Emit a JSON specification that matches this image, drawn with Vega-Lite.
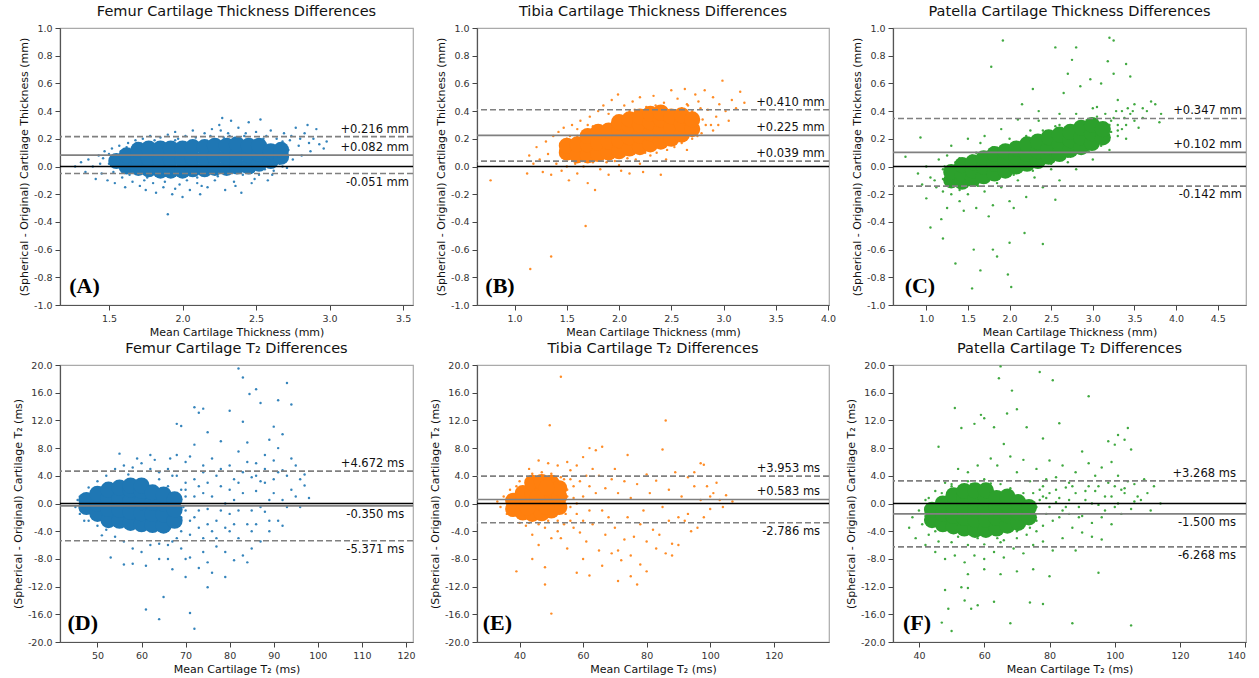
{
"$schema": "https://vega.github.io/schema/vega-lite/v6.json",
"padding": {"left": 11, "top": 2, "right": 5, "bottom": 2},
"background": "white",
"columns": 3,
"spacing": {"row": 60, "column": 64},
"bounds": "flush",
"config": {
 "font": "DejaVu Sans",
 "view": {"stroke": "#aaaaaa", "strokeWidth": 1.2},
 "axis": {"grid": false, "domain": true, "domainColor": "#555555", "domainWidth": 1.2, "tickColor": "#444444", "tickSize": 5, "tickWidth": 1, "labelOverlap": false, "labelFont": "DejaVu Sans", "labelFontSize": 9.5, "labelColor": "#333333", "labelPadding": 3, "titleFont": "DejaVu Sans", "titleFontSize": 11, "titleFontWeight": "normal", "titleColor": "#111111"},
 "title": {"font": "DejaVu Sans", "fontSize": 14.5, "fontWeight": "normal", "color": "#111111", "offset": 4, "anchor": "middle"}
},
"datasets": {
 "femurThicknessCore": [
  {"x":1.55,"y":0.04},{"x":1.62,"y":0.0},{"x":1.62,"y":0.08},{"x":1.7,"y":-0.01},{"x":1.7,"y":0.07},{"x":1.7,"y":0.12},
  {"x":1.77,"y":-0.02},{"x":1.77,"y":0.06},{"x":1.77,"y":0.13},{"x":1.85,"y":-0.03},{"x":1.85,"y":0.05},{"x":1.85,"y":0.13},
  {"x":1.92,"y":-0.03},{"x":1.92,"y":0.05},{"x":1.92,"y":0.13},{"x":2.0,"y":-0.03},{"x":2.0,"y":0.05},{"x":2.0,"y":0.13},
  {"x":2.07,"y":-0.02},{"x":2.07,"y":0.06},{"x":2.07,"y":0.14},{"x":2.15,"y":-0.02},{"x":2.15,"y":0.06},{"x":2.15,"y":0.14},
  {"x":2.22,"y":-0.01},{"x":2.22,"y":0.07},{"x":2.22,"y":0.15},{"x":2.3,"y":-0.01},{"x":2.3,"y":0.07},{"x":2.3,"y":0.15},
  {"x":2.37,"y":0.0},{"x":2.37,"y":0.08},{"x":2.37,"y":0.16},{"x":2.45,"y":0.0},{"x":2.45,"y":0.08},{"x":2.45,"y":0.15},
  {"x":2.52,"y":0.02},{"x":2.52,"y":0.09},{"x":2.52,"y":0.15},{"x":2.6,"y":0.04},{"x":2.6,"y":0.11},{"x":2.67,"y":0.07},{"x":2.67,"y":0.12}
 ],
 "femurThicknessEdge": [
  {"x":1.27,"y":0.0},{"x":1.31,"y":0.03},{"x":1.34,"y":-0.04},{"x":1.36,"y":0.05},{"x":1.39,"y":0.0},{"x":1.41,"y":-0.09},{"x":1.43,"y":0.08},{"x":1.45,"y":-0.05},{"x":1.47,"y":0.11},{"x":1.49,"y":-0.1},
  {"x":1.5,"y":0.02},{"x":1.52,"y":0.13},{"x":1.54,"y":-0.12},{"x":1.57,"y":0.15},{"x":1.59,"y":-0.08},{"x":1.61,"y":-0.15},{"x":1.63,"y":0.17},{"x":1.66,"y":-0.11},{"x":1.68,"y":0.19},{"x":1.71,"y":-0.14},
  {"x":1.73,"y":0.2},{"x":1.75,"y":-0.17},{"x":1.78,"y":0.22},{"x":1.8,"y":-0.12},{"x":1.82,"y":-0.19},{"x":1.85,"y":0.21},{"x":1.87,"y":-0.15},{"x":1.9,"y":-0.345},{"x":1.9,"y":0.23},{"x":1.93,"y":-0.2},
  {"x":1.95,"y":0.25},{"x":1.98,"y":-0.13},{"x":2.0,"y":-0.22},{"x":2.02,"y":0.22},{"x":2.05,"y":-0.17},{"x":2.07,"y":0.26},{"x":2.1,"y":-0.12},{"x":2.12,"y":-0.2},{"x":2.15,"y":0.24},{"x":2.17,"y":-0.15},
  {"x":2.2,"y":0.27},{"x":2.22,"y":-0.1},{"x":2.25,"y":0.3},{"x":2.27,"y":0.35},{"x":2.29,"y":-0.17},{"x":2.31,"y":0.24},{"x":2.33,"y":0.33},{"x":2.35,"y":-0.11},{"x":2.38,"y":0.28},{"x":2.4,"y":-0.19},
  {"x":2.42,"y":0.22},{"x":2.45,"y":0.32},{"x":2.47,"y":-0.12},{"x":2.5,"y":0.25},{"x":2.52,"y":-0.06},{"x":2.53,"y":0.34},{"x":2.55,"y":0.2},{"x":2.58,"y":-0.1},{"x":2.6,"y":0.26},{"x":2.62,"y":-0.03},
  {"x":2.64,"y":0.2},{"x":2.66,"y":0.02},{"x":2.69,"y":0.24},{"x":2.71,"y":-0.01},{"x":2.73,"y":0.19},{"x":2.75,"y":0.05},{"x":2.77,"y":0.28},{"x":2.79,"y":0.15},{"x":2.81,"y":0.08},{"x":2.83,"y":0.24},
  {"x":2.85,"y":0.3},{"x":2.87,"y":0.11},{"x":2.89,"y":0.2},{"x":2.91,"y":0.27},{"x":2.93,"y":0.16},{"x":2.96,"y":0.13},{"x":2.98,"y":0.18},{"x":2.72,"y":0.12},{"x":2.8,"y":0.2},{"x":2.86,"y":0.17},
  {"x":1.46,"y":0.06},{"x":1.44,"y":0.02},{"x":1.58,"y":0.11},{"x":1.64,"y":-0.06},{"x":1.95,"y":0.19},{"x":2.28,"y":0.21},{"x":2.56,"y":-0.02},{"x":1.76,"y":-0.08},{"x":2.1,"y":-0.08},{"x":2.41,"y":-0.06},
  {"x":1.62,"y":0.14},{"x":1.69,"y":0.17},{"x":1.74,"y":-0.1},{"x":1.81,"y":0.19},{"x":1.88,"y":-0.11},{"x":1.97,"y":0.2},{"x":2.03,"y":-0.1},{"x":2.09,"y":0.21},{"x":2.13,"y":-0.14},{"x":2.19,"y":0.22},
  {"x":2.24,"y":-0.07},{"x":2.32,"y":0.22},{"x":2.36,"y":-0.14},{"x":2.43,"y":0.24},{"x":2.49,"y":-0.09},{"x":2.57,"y":0.22},{"x":2.61,"y":-0.06},{"x":2.68,"y":0.18},{"x":2.74,"y":0.22},{"x":1.53,"y":-0.04},
  {"x":1.5,"y":0.09},{"x":1.95,"y":-0.16},{"x":2.26,"y":0.26},{"x":2.68,"y":0.0}
 ],
 "femurThicknessRefs": [
  {"y":0,"kind":"zero","label":"","side":"none","x":3.54},
  {"y":0.216,"kind":"limit","label":"+0.216 mm","side":"above","x":3.54},
  {"y":0.082,"kind":"mean","label":"+0.082 mm","side":"above","x":3.54},
  {"y":-0.051,"kind":"limit","label":"-0.051 mm","side":"below","x":3.54}
 ],
 "tibiaThicknessCore": [
  {"x":1.5,"y":0.1},{"x":1.5,"y":0.15},{"x":1.6,"y":0.08},{"x":1.6,"y":0.16},{"x":1.7,"y":0.08},{"x":1.7,"y":0.16},{"x":1.7,"y":0.22},
  {"x":1.8,"y":0.09},{"x":1.8,"y":0.17},{"x":1.8,"y":0.25},{"x":1.9,"y":0.1},{"x":1.9,"y":0.18},{"x":1.9,"y":0.26},
  {"x":2.0,"y":0.11},{"x":2.0,"y":0.19},{"x":2.0,"y":0.27},{"x":2.0,"y":0.32},{"x":2.1,"y":0.13},{"x":2.1,"y":0.21},{"x":2.1,"y":0.29},{"x":2.1,"y":0.34},
  {"x":2.2,"y":0.14},{"x":2.2,"y":0.22},{"x":2.2,"y":0.3},{"x":2.2,"y":0.36},{"x":2.3,"y":0.16},{"x":2.3,"y":0.24},{"x":2.3,"y":0.32},{"x":2.3,"y":0.38},
  {"x":2.4,"y":0.18},{"x":2.4,"y":0.26},{"x":2.4,"y":0.34},{"x":2.4,"y":0.39},{"x":2.5,"y":0.2},{"x":2.5,"y":0.28},{"x":2.5,"y":0.36},
  {"x":2.6,"y":0.23},{"x":2.6,"y":0.31},{"x":2.6,"y":0.37},{"x":2.7,"y":0.27},{"x":2.7,"y":0.34}
 ],
 "tibiaThicknessEdge": [
  {"x":0.77,"y":-0.1},{"x":1.15,"y":-0.74},{"x":1.35,"y":-0.65},{"x":1.68,"y":-0.43},
  {"x":1.12,"y":-0.05},{"x":1.14,"y":0.08},{"x":1.18,"y":0.02},{"x":1.21,"y":0.14},{"x":1.24,"y":0.05},{"x":1.27,"y":-0.04},{"x":1.3,"y":0.18},{"x":1.32,"y":0.09},{"x":1.35,"y":-0.06},{"x":1.37,"y":0.22},
  {"x":1.4,"y":0.02},{"x":1.42,"y":0.25},{"x":1.45,"y":-0.03},{"x":1.47,"y":0.28},{"x":1.5,"y":0.0},{"x":1.52,"y":-0.1},{"x":1.55,"y":0.3},{"x":1.58,"y":0.02},{"x":1.6,"y":-0.05},{"x":1.63,"y":0.33},
  {"x":1.66,"y":0.0},{"x":1.7,"y":-0.12},{"x":1.72,"y":0.36},{"x":1.75,"y":0.03},{"x":1.77,"y":-0.17},{"x":1.8,"y":0.4},{"x":1.82,"y":-0.02},{"x":1.85,"y":0.44},{"x":1.88,"y":0.03},{"x":1.9,"y":-0.06},
  {"x":1.93,"y":0.48},{"x":1.96,"y":0.04},{"x":1.99,"y":0.52},{"x":2.02,"y":-0.03},{"x":2.05,"y":0.44},{"x":2.08,"y":0.06},{"x":2.1,"y":-0.05},{"x":2.13,"y":0.47},{"x":2.16,"y":0.05},{"x":2.2,"y":0.5},
  {"x":2.23,"y":-0.04},{"x":2.26,"y":0.43},{"x":2.3,"y":0.08},{"x":2.33,"y":0.51},{"x":2.36,"y":0.1},{"x":2.4,"y":-0.06},{"x":2.43,"y":0.46},{"x":2.46,"y":0.12},{"x":2.5,"y":0.55},{"x":2.53,"y":0.14},
  {"x":2.56,"y":0.49},{"x":2.6,"y":0.17},{"x":2.63,"y":0.56},{"x":2.66,"y":0.44},{"x":2.7,"y":0.2},{"x":2.73,"y":0.52},{"x":2.76,"y":0.47},{"x":2.79,"y":0.24},{"x":2.82,"y":0.55},{"x":2.85,"y":0.41},
  {"x":2.88,"y":0.3},{"x":2.9,"y":0.5},{"x":2.93,"y":0.36},{"x":2.96,"y":0.45},{"x":2.99,"y":0.62},{"x":3.02,"y":0.4},{"x":3.05,"y":0.33},{"x":3.08,"y":0.48},{"x":3.12,"y":0.42},{"x":3.16,"y":0.54},
  {"x":3.2,"y":0.46},{"x":2.8,"y":0.34},{"x":2.7,"y":0.4},{"x":2.9,"y":0.26},{"x":2.6,"y":0.42},{"x":2.95,"y":0.3},{"x":1.9,"y":0.38},{"x":2.1,"y":0.4},{"x":1.7,"y":0.3},{"x":1.6,"y":0.27},
  {"x":2.45,"y":0.05},{"x":2.65,"y":0.12},{"x":2.2,"y":0.02},{"x":1.44,"y":0.12},{"x":1.53,"y":0.22},
  {"x":1.45,"y":0.08},{"x":1.5,"y":0.2},{"x":1.6,"y":0.22},{"x":1.65,"y":0.04},{"x":1.75,"y":0.29},{"x":1.85,"y":0.06},{"x":1.95,"y":0.34},{"x":2.05,"y":0.08},{"x":2.15,"y":0.41},{"x":2.25,"y":0.1},
  {"x":2.35,"y":0.44},{"x":2.45,"y":0.42},{"x":2.55,"y":0.18},{"x":2.65,"y":0.45},{"x":2.75,"y":0.22},{"x":2.78,"y":0.42},{"x":2.83,"y":0.3},{"x":1.55,"y":0.05},{"x":2.0,"y":0.01}
 ],
 "tibiaThicknessRefs": [
  {"y":0,"kind":"zero","label":"","side":"none","x":3.97},
  {"y":0.41,"kind":"limit","label":"+0.410 mm","side":"above","x":3.97},
  {"y":0.225,"kind":"mean","label":"+0.225 mm","side":"above","x":3.97},
  {"y":0.039,"kind":"limit","label":"+0.039 mm","side":"above","x":3.97}
 ],
 "patellaThicknessCore": [
  {"x":1.3,"y":-0.1},{"x":1.3,"y":-0.04},{"x":1.43,"y":-0.11},{"x":1.43,"y":-0.05},{"x":1.43,"y":0.01},
  {"x":1.56,"y":-0.09},{"x":1.56,"y":-0.03},{"x":1.56,"y":0.03},{"x":1.69,"y":-0.07},{"x":1.69,"y":0.0},{"x":1.69,"y":0.06},
  {"x":1.82,"y":-0.05},{"x":1.82,"y":0.02},{"x":1.82,"y":0.09},{"x":1.95,"y":-0.03},{"x":1.95,"y":0.04},{"x":1.95,"y":0.11},
  {"x":2.08,"y":0.0},{"x":2.08,"y":0.07},{"x":2.08,"y":0.13},{"x":2.21,"y":0.02},{"x":2.21,"y":0.09},{"x":2.21,"y":0.16},
  {"x":2.34,"y":0.04},{"x":2.34,"y":0.11},{"x":2.34,"y":0.18},{"x":2.47,"y":0.07},{"x":2.47,"y":0.14},{"x":2.47,"y":0.21},
  {"x":2.6,"y":0.09},{"x":2.6,"y":0.16},{"x":2.6,"y":0.23},{"x":2.73,"y":0.12},{"x":2.73,"y":0.19},{"x":2.73,"y":0.25},
  {"x":2.86,"y":0.14},{"x":2.86,"y":0.21},{"x":2.86,"y":0.28},{"x":2.99,"y":0.17},{"x":2.99,"y":0.24},{"x":2.99,"y":0.3},
  {"x":3.12,"y":0.21},{"x":3.12,"y":0.27}
 ],
 "patellaThicknessEdge": [
  {"x":0.75,"y":0.07},{"x":0.93,"y":0.21},{"x":0.95,"y":-0.13},{"x":1.0,"y":-0.23},{"x":1.05,"y":-0.44},{"x":1.2,"y":-0.52},{"x":1.18,"y":-0.38},{"x":1.25,"y":-0.3},{"x":1.35,"y":-0.7},{"x":1.55,"y":-0.88},
  {"x":1.57,"y":-0.6},{"x":1.65,"y":-0.75},{"x":1.78,"y":0.72},{"x":1.8,"y":-0.6},{"x":1.85,"y":-0.65},{"x":1.92,"y":0.91},{"x":1.98,"y":-0.78},{"x":2.02,"y":-0.87},{"x":2.0,"y":-0.55},{"x":2.18,"y":-0.48},
  {"x":2.28,"y":0.56},{"x":2.4,"y":-0.56},{"x":2.55,"y":-0.24},{"x":2.55,"y":0.86},{"x":2.7,"y":0.67},{"x":2.75,"y":0.77},{"x":2.8,"y":0.86},{"x":3.05,"y":0.43},{"x":3.18,"y":0.76},{"x":3.2,"y":0.93},
  {"x":3.25,"y":0.91},{"x":3.25,"y":0.67},{"x":3.4,"y":0.74},{"x":3.45,"y":0.65},{"x":3.3,"y":0.48},{"x":3.1,"y":0.6},{"x":2.97,"y":0.63},{"x":2.85,"y":0.58},{"x":2.65,"y":0.53},{"x":2.35,"y":0.4},
  {"x":2.1,"y":0.34},{"x":1.9,"y":0.27},{"x":2.15,"y":0.45},{"x":1.7,"y":0.22},{"x":1.5,"y":0.2},{"x":1.3,"y":0.15},{"x":1.15,"y":0.05},{"x":1.1,"y":-0.1},{"x":1.2,"y":-0.18},{"x":1.4,"y":-0.25},
  {"x":1.6,"y":-0.3},{"x":1.8,"y":-0.28},{"x":2.0,"y":-0.25},{"x":2.2,"y":-0.22},{"x":2.4,"y":-0.15},{"x":2.6,"y":-0.1},{"x":2.8,"y":-0.02},{"x":3.0,"y":0.05},{"x":3.2,"y":0.12},{"x":3.4,"y":0.2},
  {"x":3.55,"y":0.28},{"x":3.65,"y":0.4},{"x":3.75,"y":0.45},{"x":3.82,"y":0.38},{"x":3.8,"y":0.32},{"x":3.6,"y":0.35},{"x":3.5,"y":0.45},{"x":3.35,"y":0.4},{"x":3.4,"y":0.3},{"x":3.3,"y":0.22},
  {"x":3.15,"y":0.38},{"x":3.0,"y":0.42},{"x":2.8,"y":0.38},{"x":2.6,"y":0.3},{"x":2.4,"y":0.26},{"x":2.2,"y":0.22},{"x":2.0,"y":0.2},{"x":1.8,"y":0.14},{"x":1.6,"y":0.1},{"x":1.4,"y":0.06},
  {"x":1.2,"y":-0.02},{"x":1.05,"y":-0.08},{"x":1.3,"y":-0.2},{"x":1.5,"y":-0.2},{"x":1.7,"y":-0.18},{"x":1.9,"y":-0.15},{"x":2.1,"y":-0.1},{"x":2.3,"y":-0.08},{"x":2.5,"y":-0.02},{"x":2.7,"y":0.03},
  {"x":2.9,"y":0.1},{"x":3.1,"y":0.15},{"x":3.3,"y":0.3},{"x":3.45,"y":0.38},{"x":3.25,"y":0.35},{"x":3.35,"y":0.27},{"x":3.2,"y":0.3},{"x":3.05,"y":0.33},{"x":3.5,"y":0.33},{"x":3.6,"y":0.42},
  {"x":3.7,"y":0.47},{"x":1.12,"y":-0.15},{"x":1.25,"y":0.08},{"x":1.0,"y":0.0},{"x":0.9,"y":-0.05},{"x":1.45,"y":-0.32},{"x":1.75,"y":-0.36},{"x":2.05,"y":-0.3},{"x":2.35,"y":0.33},{"x":2.6,"y":0.38},
  {"x":1.65,"y":0.17},{"x":3.28,"y":0.4},{"x":3.42,"y":0.42},{"x":3.22,"y":0.25},{"x":2.55,"y":0.29},{"x":2.25,"y":0.26},
  {"x":1.2,"y":-0.09},{"x":1.22,"y":0.0},{"x":1.35,"y":0.03},{"x":1.4,"y":-0.17},{"x":1.55,"y":0.08},{"x":1.62,"y":-0.14},{"x":1.75,"y":0.1},{"x":1.85,"y":-0.12},{"x":1.98,"y":0.15},{"x":2.05,"y":-0.06},
  {"x":2.15,"y":0.18},{"x":2.28,"y":-0.03},{"x":2.42,"y":0.24},{"x":2.5,"y":0.02},{"x":2.65,"y":0.27},{"x":2.7,"y":0.07},{"x":2.8,"y":0.3},{"x":2.95,"y":0.11},{"x":3.05,"y":0.36},{"x":3.15,"y":0.2},
  {"x":3.22,"y":0.33},{"x":3.3,"y":0.26},{"x":3.38,"y":0.35},{"x":3.48,"y":0.4}
 ],
 "patellaThicknessRefs": [
  {"y":0,"kind":"zero","label":"","side":"none","x":4.79},
  {"y":0.347,"kind":"limit","label":"+0.347 mm","side":"above","x":4.79},
  {"y":0.102,"kind":"mean","label":"+0.102 mm","side":"above","x":4.79},
  {"y":-0.142,"kind":"limit","label":"-0.142 mm","side":"below","x":4.79}
 ],
 "femurT2Core": [
  {"x":47.5,"y":-0.5},{"x":47.5,"y":0.5},{"x":50,"y":-1.5},{"x":50,"y":0.0},{"x":50,"y":1.4},
  {"x":52.5,"y":-2.4},{"x":52.5,"y":-0.8},{"x":52.5,"y":0.8},{"x":52.5,"y":2.0},{"x":55,"y":-2.5},{"x":55,"y":-0.9},{"x":55,"y":0.7},{"x":55,"y":2.3},
  {"x":57.5,"y":-2.8},{"x":57.5,"y":-1.2},{"x":57.5,"y":0.4},{"x":57.5,"y":2.0},{"x":57.5,"y":2.6},{"x":60,"y":-3.0},{"x":60,"y":-1.4},{"x":60,"y":0.2},{"x":60,"y":1.8},{"x":60,"y":2.6},
  {"x":62.5,"y":-3.1},{"x":62.5,"y":-1.5},{"x":62.5,"y":0.1},{"x":62.5,"y":1.6},{"x":65,"y":-3.2},{"x":65,"y":-1.6},{"x":65,"y":0.0},{"x":65,"y":1.3},
  {"x":67.5,"y":-2.5},{"x":67.5,"y":-0.9},{"x":67.5,"y":0.6}
 ],
 "femurT2Edge": [
  {"x":82,"y":19.5},{"x":83,"y":18.2},{"x":86,"y":16.5},{"x":84.5,"y":15.8},{"x":87,"y":14.5},{"x":93,"y":17.4},{"x":94,"y":14.3},{"x":91,"y":14.9},{"x":72,"y":13.9},{"x":74,"y":13.7},
  {"x":73,"y":13.1},{"x":80,"y":13.4},{"x":83,"y":11.8},{"x":90,"y":11.1},{"x":68,"y":11.5},{"x":69,"y":11.2},{"x":75,"y":10.3},{"x":92,"y":10.0},{"x":61,"y":-15.3},{"x":64,"y":-16.7},
  {"x":71,"y":-15.8},{"x":72,"y":-18.1},{"x":65,"y":-13.5},{"x":75,"y":-12.1},{"x":70,"y":-10.6},{"x":79,"y":-10.6},{"x":56,"y":-8.8},{"x":58,"y":-8.7},{"x":53,"y":-7.8},{"x":55,"y":7.2},
  {"x":66,"y":5},{"x":68,"y":7},{"x":70,"y":6},{"x":72,"y":8.5},{"x":74,"y":4.5},{"x":76,"y":6.5},{"x":78,"y":9},{"x":80,"y":5.5},{"x":82,"y":7.5},{"x":84,"y":8.8},
  {"x":86,"y":5.8},{"x":88,"y":7},{"x":90,"y":6.2},{"x":92,"y":4.8},{"x":94,"y":6.5},{"x":96,"y":3.5},{"x":97,"y":2.6},{"x":95,"y":1},{"x":93,"y":-0.5},{"x":91,"y":-2.5},
  {"x":89,"y":-4},{"x":87,"y":-5.5},{"x":85,"y":-6.5},{"x":83,"y":-7.5},{"x":81,"y":-8.2},{"x":79,"y":-7},{"x":77,"y":-6.2},{"x":75,"y":-8.5},{"x":73,"y":-9.3},{"x":71,"y":-7.8},
  {"x":69,"y":-6.5},{"x":67,"y":-5.5},{"x":66,"y":-8},{"x":68,"y":-3},{"x":70,"y":3},{"x":72,"y":-2},{"x":74,"y":1.5},{"x":76,"y":-4},{"x":78,"y":2.5},{"x":80,"y":-1.5},
  {"x":82,"y":3},{"x":84,"y":-3},{"x":86,"y":1.8},{"x":88,"y":-1.2},{"x":90,"y":3.5},{"x":92,"y":-3.2},{"x":94,"y":2},{"x":96,"y":-0.5},{"x":89,"y":9.2},{"x":87,"y":3.2},
  {"x":85,"y":-1},{"x":83,"y":4.5},{"x":81,"y":0.5},{"x":79,"y":-3.5},{"x":77,"y":4},{"x":75,"y":-0.8},{"x":73,"y":2.5},{"x":71,"y":-4.5},{"x":69,"y":2},{"x":67,"y":4},
  {"x":93,"y":4},{"x":95,"y":5.5},{"x":91,"y":8},{"x":89,"y":0.5},{"x":84,"y":-8.5},{"x":76,"y":-10},{"x":97,"y":4.2},{"x":60,"y":-7},{"x":62,"y":-6},{"x":58,"y":-6.5},
  {"x":64,"y":-5.8},{"x":56,"y":-5.5},{"x":54,"y":-4.8},{"x":52,"y":-3.8},{"x":50,"y":-3.2},{"x":48,"y":-2.5},{"x":46,"y":-1.5},{"x":45,"y":-0.5},{"x":46,"y":1},{"x":48,"y":2.3},
  {"x":50,"y":3.2},{"x":52,"y":4},{"x":54,"y":5},{"x":56,"y":5.5},{"x":58,"y":5.2},{"x":60,"y":5.8},{"x":62,"y":5},{"x":64,"y":4.5},{"x":47,"y":-2.5},{"x":62,"y":7},
  {"x":59,"y":6.5},{"x":66,"y":-3.8},{"x":66,"y":2.5},{"x":70,"y":-1},{"x":72,"y":1},{"x":74,"y":-5},{"x":78,"y":-1},{"x":80,"y":2},{"x":82,"y":-5},{"x":86,"y":-3},
  {"x":88,"y":3},{"x":71,"y":6.8},{"x":64,"y":-8},{"x":61,"y":-9},{"x":67,"y":-9.5},{"x":85,"y":3.8},{"x":81,"y":-3},{"x":77,"y":-2.5},{"x":98,"y":0.8},{"x":63,"y":6.3},
  {"x":57,"y":4.2},{"x":51,"y":-4.6},{"x":49,"y":1.8},{"x":69,"y":-2},{"x":70,"y":1},{"x":68,"y":-5},{"x":73,"y":-3.5},{"x":75,"y":3},
  {"x":68,"y":4},{"x":69,"y":-4},{"x":70,"y":2},{"x":71,"y":-2.5},{"x":72,"y":3.5},{"x":73,"y":-1},{"x":74,"y":5.5},{"x":75,"y":-3},{"x":76,"y":1},{"x":77,"y":-5},
  {"x":78,"y":5},{"x":79,"y":0},{"x":80,"y":-4},{"x":81,"y":3.5},{"x":82,"y":-1},{"x":83,"y":1.5},{"x":84,"y":6},{"x":85,"y":-4},{"x":86,"y":4},{"x":87,"y":-0.5},
  {"x":88,"y":5},{"x":89,"y":-2.5},{"x":90,"y":1.5},{"x":91,"y":4.5},{"x":92,"y":0.5},{"x":67,"y":-1.5},{"x":68.5,"y":1},{"x":69.5,"y":-0.5},{"x":66,"y":-6},{"x":64,"y":3.5},
  {"x":45.5,"y":0.5},{"x":66.5,"y":6.5},{"x":70,"y":-8},{"x":74,"y":-7}
 ],
 "femurT2Refs": [
  {"y":0,"kind":"zero","label":"","side":"none","x":119.6},
  {"y":4.672,"kind":"limit","label":"+4.672 ms","side":"above","x":119.6},
  {"y":-0.35,"kind":"mean","label":"-0.350 ms","side":"below","x":119.6},
  {"y":-5.371,"kind":"limit","label":"-5.371 ms","side":"below","x":119.6}
 ],
 "tibiaT2Core": [
  {"x":38,"y":-0.8},{"x":38,"y":0.4},{"x":41,"y":-1.3},{"x":41,"y":0.3},{"x":41,"y":1.5},
  {"x":44,"y":-1.5},{"x":44,"y":0.0},{"x":44,"y":1.5},{"x":44,"y":3.0},{"x":47,"y":-1.4},{"x":47,"y":0.1},{"x":47,"y":1.6},{"x":47,"y":3.1},
  {"x":50,"y":-1.0},{"x":50,"y":0.5},{"x":50,"y":2.0},{"x":50,"y":3.0},{"x":52.5,"y":-0.5},{"x":52.5,"y":1.0},{"x":52.5,"y":2.2},
  {"x":42.5,"y":-0.6},{"x":45.5,"y":0.8},{"x":48.5,"y":2.3},{"x":48.5,"y":-0.5}
 ],
 "tibiaT2Edge": [
  {"x":53,"y":18.3},{"x":49.5,"y":11.3},{"x":86,"y":12},{"x":85,"y":7.8},{"x":48,"y":-11.7},{"x":50,"y":-15.9},{"x":39,"y":-9.8},{"x":44,"y":-8},{"x":48,"y":-9.2},{"x":62,"y":8},
  {"x":64,"y":7.7},{"x":66,"y":8.2},{"x":74,"y":7},{"x":77,"y":-11.7},{"x":71,"y":-11.2},{"x":80,"y":-9.8},{"x":75,"y":-10.5},{"x":62,"y":-10.4},{"x":58,"y":-10},{"x":97,"y":5.8},
  {"x":98,"y":5.6},{"x":55,"y":6},{"x":56,"y":4.8},{"x":58,"y":5.5},{"x":60,"y":6.7},{"x":57,"y":-3.5},{"x":59,"y":-4.2},{"x":61,"y":-5.5},{"x":63,"y":-3},{"x":65,"y":-6.8},
  {"x":67,"y":-4.5},{"x":69,"y":-7.2},{"x":71,"y":-6.8},{"x":73,"y":-5.2},{"x":75,"y":-7.5},{"x":72,"y":-8.2},{"x":70,"y":-3.5},{"x":68,"y":-2},{"x":66,"y":-1},{"x":64,"y":1.5},
  {"x":62,"y":2.5},{"x":60,"y":1},{"x":58,"y":-1.5},{"x":56,"y":-2.5},{"x":54,"y":-3},{"x":52,"y":-4},{"x":50,"y":-5},{"x":48,"y":-3.5},{"x":46,"y":-6},{"x":44,"y":-4.5},
  {"x":42,"y":-3.2},{"x":40,"y":-2.8},{"x":36,"y":-1.5},{"x":34,"y":-0.5},{"x":33,"y":0.3},{"x":35,"y":1},{"x":37,"y":2},{"x":40,"y":3.2},{"x":43,"y":5},{"x":46,"y":6.2},
  {"x":49,"y":5.8},{"x":52,"y":5.5},{"x":54,"y":3.5},{"x":57,"y":2.5},{"x":59,"y":3.2},{"x":63,"y":5},{"x":65,"y":4},{"x":67,"y":2.2},{"x":69,"y":3.5},{"x":71,"y":1.5},
  {"x":73,"y":3.2},{"x":75,"y":0.8},{"x":77,"y":2.8},{"x":79,"y":-1},{"x":81,"y":1.5},{"x":83,"y":3.3},{"x":85,"y":-0.5},{"x":87,"y":2},{"x":89,"y":4.5},{"x":91,"y":1},
  {"x":93,"y":-1.5},{"x":95,"y":2.5},{"x":97,"y":0.5},{"x":99,"y":2.5},{"x":101,"y":1.5},{"x":103,"y":0.5},{"x":105,"y":1.2},{"x":107,"y":0.3},{"x":100,"y":-0.8},{"x":98,"y":-2},
  {"x":96,"y":-3.5},{"x":94,"y":-4},{"x":92,"y":-2.5},{"x":90,"y":-6},{"x":88,"y":-5.8},{"x":86,"y":-7.2},{"x":84,"y":-4.5},{"x":82,"y":-3.8},{"x":80,"y":-5.5},{"x":78,"y":-3},
  {"x":76,"y":-4.8},{"x":74,"y":-2},{"x":90,"y":-2},{"x":102,"y":3},{"x":95,"y":4.5},{"x":100,"y":1},{"x":104,"y":-0.5},{"x":93,"y":3.8},{"x":87,"y":-2.5},{"x":70,"y":5},
  {"x":80,"y":4.2},{"x":83,"y":-6.5},{"x":88,"y":-7.5},{"x":78,"y":-8.8},{"x":66,"y":-9},{"x":60,"y":-8},{"x":55,"y":-6.5},{"x":56,"y":-0.5},{"x":55,"y":2},{"x":57,"y":0.8},
  {"x":36,"y":0.5},{"x":37,"y":-1},{"x":39,"y":2.5},{"x":42,"y":3},{"x":44,"y":4.3},{"x":47,"y":4.5},{"x":50,"y":4.3},{"x":53,"y":3.8},{"x":55,"y":1},{"x":54.5,"y":-1.5},
  {"x":52,"y":-2.5},{"x":49,"y":-2.5},{"x":46,"y":-3},{"x":43,"y":-2.8},{"x":40,"y":-2},{"x":56,"y":3.5},{"x":58,"y":0},{"x":60,"y":-2.5},{"x":61,"y":4},{"x":62,"y":-1},{"x":53,"y":-5}
 ],
 "tibiaT2Refs": [
  {"y":0,"kind":"zero","label":"","side":"none","x":134.6},
  {"y":3.953,"kind":"limit","label":"+3.953 ms","side":"above","x":134.6},
  {"y":0.583,"kind":"mean","label":"+0.583 ms","side":"above","x":134.6},
  {"y":-2.786,"kind":"limit","label":"-2.786 ms","side":"below","x":134.6}
 ],
 "patellaT2Core": [
  {"x":44,"y":-2.4},{"x":44,"y":-0.9},{"x":47.3,"y":-3.0},{"x":47.3,"y":-1.5},{"x":47.3,"y":0.0},
  {"x":50.6,"y":-3.3},{"x":50.6,"y":-1.8},{"x":50.6,"y":-0.3},{"x":50.6,"y":1.2},
  {"x":53.9,"y":-3.6},{"x":53.9,"y":-2.1},{"x":53.9,"y":-0.6},{"x":53.9,"y":0.9},{"x":53.9,"y":1.8},
  {"x":57.2,"y":-3.8},{"x":57.2,"y":-2.3},{"x":57.2,"y":-0.8},{"x":57.2,"y":0.7},{"x":57.2,"y":1.9},
  {"x":60.5,"y":-3.8},{"x":60.5,"y":-2.3},{"x":60.5,"y":-0.8},{"x":60.5,"y":0.7},{"x":60.5,"y":1.9},
  {"x":63.8,"y":-3.6},{"x":63.8,"y":-2.1},{"x":63.8,"y":-0.6},{"x":63.8,"y":0.8},
  {"x":67.1,"y":-3.2},{"x":67.1,"y":-1.7},{"x":67.1,"y":-0.2},{"x":67.1,"y":1.0},
  {"x":70.4,"y":-2.8},{"x":70.4,"y":-1.3},{"x":70.4,"y":0.2},{"x":73.7,"y":-2.0},{"x":73.7,"y":-0.5}
 ],
 "patellaT2Edge": [
  {"x":65,"y":19.8},{"x":77,"y":19},{"x":64.5,"y":18.1},{"x":81,"y":17.8},{"x":68.5,"y":16.3},{"x":92,"y":15.5},{"x":51,"y":13.8},{"x":67,"y":13},{"x":70,"y":13.6},{"x":59,"y":12.8},
  {"x":60,"y":12.3},{"x":57,"y":11.5},{"x":53,"y":10.9},{"x":63,"y":11},{"x":83,"y":11.6},{"x":73,"y":11},{"x":78,"y":9.4},{"x":104,"y":10.9},{"x":101,"y":9.9},{"x":103,"y":9.2},
  {"x":46,"y":8.2},{"x":48,"y":-12.5},{"x":49,"y":-15.2},{"x":47,"y":-17.2},{"x":50,"y":-18.4},{"x":53,"y":-12.1},{"x":55,"y":-12.2},{"x":56,"y":-15.2},{"x":54,"y":-14},{"x":58,"y":-14.7},
  {"x":63,"y":-14.2},{"x":68,"y":-17.3},{"x":74,"y":-14.3},{"x":78,"y":-14.5},{"x":87,"y":-17.3},{"x":105,"y":-17.6},{"x":80,"y":-10.5},{"x":75,"y":-9.5},{"x":70,"y":-9.8},{"x":65,"y":-10.2},
  {"x":60,"y":-9.5},{"x":55,"y":-10.2},{"x":98,"y":9},{"x":100,"y":8.5},{"x":105,"y":7.8},{"x":99,"y":6},{"x":96,"y":5.2},{"x":94,"y":4},{"x":92,"y":5.8},{"x":90,"y":7.5},
  {"x":88,"y":4.5},{"x":86,"y":3},{"x":84,"y":5.5},{"x":82,"y":3.8},{"x":80,"y":6.2},{"x":78,"y":2.5},{"x":76,"y":5},{"x":74,"y":3.2},{"x":72,"y":6.3},{"x":70,"y":4.5},
  {"x":68,"y":6.8},{"x":66,"y":8.6},{"x":64,"y":5.5},{"x":62,"y":6.5},{"x":58,"y":5.5},{"x":55,"y":4.5},{"x":52,"y":5},{"x":48,"y":3},{"x":45,"y":1.8},{"x":42,"y":0.5},
  {"x":40,"y":-1},{"x":38,"y":-2},{"x":37,"y":-3.5},{"x":39,"y":-5},{"x":42,"y":-6},{"x":45,"y":-7},{"x":48,"y":-8},{"x":51,"y":-7.5},{"x":54,"y":-8.5},{"x":57,"y":-7.5},
  {"x":60,"y":-8},{"x":63,"y":-7},{"x":66,"y":-7.8},{"x":69,"y":-6.5},{"x":72,"y":-7.2},{"x":75,"y":-6},{"x":78,"y":-5.5},{"x":81,"y":-6.8},{"x":84,"y":-5},{"x":87,"y":-3.5},
  {"x":90,"y":-4.2},{"x":93,"y":-2.8},{"x":96,"y":-2},{"x":99,"y":-3},{"x":102,"y":-1.5},{"x":105,"y":-0.8},{"x":108,"y":0.5},{"x":110,"y":1.5},{"x":112,"y":2.5},{"x":114,"y":0},
  {"x":111,"y":-1},{"x":109,"y":3.5},{"x":106,"y":2.8},{"x":103,"y":1.5},{"x":100,"y":2.5},{"x":97,"y":1},{"x":94,"y":1.8},{"x":91,"y":0.5},{"x":88,"y":1.5},{"x":85,"y":-0.5},
  {"x":82,"y":0.2},{"x":79,"y":-1.5},{"x":76,"y":-2.5},{"x":77,"y":0.5},{"x":80,"y":1.5},{"x":83,"y":-2},{"x":86,"y":-1.5},{"x":89,"y":-0.5},{"x":92,"y":2.5},{"x":95,"y":-0.2},
  {"x":98,"y":3},{"x":101,"y":4},{"x":104,"y":3.2},{"x":107,"y":1},{"x":100,"y":-0.5},{"x":93,"y":-4.8},{"x":96,"y":-5.2},{"x":90,"y":-1.8},{"x":85,"y":2.3},{"x":79,"y":3.5},
  {"x":73,"y":-4.5},{"x":76,"y":-4},{"x":70,"y":-5},{"x":66,"y":-5.3},{"x":88,"y":-6.8},{"x":95,"y":-10},{"x":102,"y":2},{"x":41,"y":-3},{"x":43,"y":-4.5},{"x":46,"y":-5.5},
  {"x":50,"y":-5.6},{"x":55,"y":-6},{"x":60,"y":-5.9},{"x":65,"y":-5.6},{"x":50,"y":2.8},{"x":55,"y":3.2},{"x":60,"y":3.5},{"x":65,"y":2.8},{"x":75,"y":1.5},{"x":78,"y":-3.2},
  {"x":42,"y":-1.8},{"x":43,"y":0.8},{"x":45,"y":-4},{"x":47,"y":1.5},{"x":50,"y":2.5},{"x":52,"y":-4.8},{"x":56,"y":2.8},{"x":58,"y":-5},{"x":62,"y":2.9},{"x":64,"y":-5},
  {"x":68,"y":2.2},{"x":70,"y":-4},{"x":72,"y":1.5},{"x":74,"y":-3.5},{"x":76,"y":-0.5},{"x":77,"y":2},{"x":79,"y":0.8},{"x":81,"y":-2.5},{"x":82,"y":2},{"x":84,"y":-1},
  {"x":86,"y":0.5},{"x":87,"y":2.5},{"x":89,"y":-2},{"x":91,"y":1.8},{"x":93,"y":0},{"x":95,"y":2.5},{"x":97,"y":-1},{"x":99,"y":1},{"x":101,"y":0},{"x":103,"y":2.2},
  {"x":106,"y":0.3},{"x":80,"y":-0.5},{"x":83,"y":0.8},{"x":78,"y":1}
 ],
 "patellaT2Refs": [
  {"y":0,"kind":"zero","label":"","side":"none","x":137.1},
  {"y":3.268,"kind":"limit","label":"+3.268 ms","side":"above","x":137.1},
  {"y":-1.5,"kind":"mean","label":"-1.500 ms","side":"below","x":137.1},
  {"y":-6.268,"kind":"limit","label":"-6.268 ms","side":"below","x":137.1}
 ]
},
"concat": [
 {
  "title": "Femur Cartilage Thickness Differences",
  "width": 353, "height": 277,
  "layer": [
   {"data": {"name": "femurThicknessEdge"}, "mark": {"type": "circle", "size": 6, "color": "#1f77b4", "opacity": 0.9},
    "encoding": {
     "x": {"field": "x", "type": "quantitative", "title": "Mean Cartilage Thickness (mm)", "scale": {"domain": [1.167, 3.567], "nice": false, "zero": false}, "axis": {"values": [1.5, 2, 2.5, 3, 3.5], "format": ".1f", "tickCount": 12}},
     "y": {"field": "y", "type": "quantitative", "title": "(Spherical - Original) Cartilage Thickness (mm)", "scale": {"domain": [-1, 1], "nice": false, "zero": false}, "axis": {"values": [-1, -0.8, -0.6, -0.4, -0.2, 0, 0.2, 0.4, 0.6, 0.8, 1], "tickCount": 12, "labelExpr": "replace(format(datum.value, '.1f'), '\u2212', '-')"}}}},
   {"data": {"name": "femurThicknessCore"}, "mark": {"type": "circle", "size": 260, "color": "#1f77b4", "opacity": 1},
    "encoding": {"x": {"field": "x", "type": "quantitative", "title": "Mean Cartilage Thickness (mm)"}, "y": {"field": "y", "type": "quantitative", "title": "(Spherical - Original) Cartilage Thickness (mm)"}}},
   {"data": {"name": "femurThicknessRefs"}, "mark": {"type": "rule"},
    "encoding": {"y": {"field": "y", "type": "quantitative", "title": "(Spherical - Original) Cartilage Thickness (mm)"},
     "color": {"field": "kind", "type": "nominal", "scale": {"domain": ["limit", "mean", "zero"], "range": ["#808080", "#808080", "#000000"]}, "legend": null},
     "strokeDash": {"field": "kind", "type": "nominal", "scale": {"domain": ["limit", "mean", "zero"], "range": [[6, 3], [1, 0], [1, 0]]}, "legend": null},
     "strokeWidth": {"field": "kind", "type": "nominal", "scale": {"domain": ["limit", "mean", "zero"], "range": [1.6, 1.6, 2]}, "legend": null}}},
   {"data": {"name": "femurThicknessRefs"}, "transform": [{"filter": "datum.side == 'above'"}], "mark": {"type": "text", "align": "right", "baseline": "bottom", "dy": -2, "fontSize": 11.5, "color": "#111111"},
    "encoding": {"x": {"field": "x", "type": "quantitative", "title": "Mean Cartilage Thickness (mm)"}, "y": {"field": "y", "type": "quantitative", "title": "(Spherical - Original) Cartilage Thickness (mm)"}, "text": {"field": "label"}}},
   {"data": {"name": "femurThicknessRefs"}, "transform": [{"filter": "datum.side == 'below'"}], "mark": {"type": "text", "align": "right", "baseline": "top", "dy": 3, "fontSize": 11.5, "color": "#111111"},
    "encoding": {"x": {"field": "x", "type": "quantitative", "title": "Mean Cartilage Thickness (mm)"}, "y": {"field": "y", "type": "quantitative", "title": "(Spherical - Original) Cartilage Thickness (mm)"}, "text": {"field": "label"}}},
   {"data": {"values": [{"tag": "(A)", "x": 1.23, "y": -0.91}]}, "mark": {"type": "text", "align": "left", "baseline": "alphabetic", "font": "Liberation Serif", "fontWeight": "bold", "fontSize": 22, "color": "#000000"},
    "encoding": {"x": {"field": "x", "type": "quantitative", "title": "Mean Cartilage Thickness (mm)"}, "y": {"field": "y", "type": "quantitative", "title": "(Spherical - Original) Cartilage Thickness (mm)"}, "text": {"field": "tag"}}}
  ]
 },
 {
  "title": "Tibia Cartilage Thickness Differences",
  "width": 352, "height": 277,
  "layer": [
   {"data": {"name": "tibiaThicknessEdge"}, "mark": {"type": "circle", "size": 6, "color": "#ff7f0e", "opacity": 0.9},
    "encoding": {
     "x": {"field": "x", "type": "quantitative", "title": "Mean Cartilage Thickness (mm)", "scale": {"domain": [0.64, 4.01], "nice": false, "zero": false}, "axis": {"values": [1, 1.5, 2, 2.5, 3, 3.5, 4], "format": ".1f", "tickCount": 12}},
     "y": {"field": "y", "type": "quantitative", "title": "(Spherical - Original) Cartilage Thickness (mm)", "scale": {"domain": [-1, 1], "nice": false, "zero": false}, "axis": {"values": [-1, -0.8, -0.6, -0.4, -0.2, 0, 0.2, 0.4, 0.6, 0.8, 1], "tickCount": 12, "labelExpr": "replace(format(datum.value, '.1f'), '\u2212', '-')"}}}},
   {"data": {"name": "tibiaThicknessCore"}, "mark": {"type": "circle", "size": 260, "color": "#ff7f0e", "opacity": 1},
    "encoding": {"x": {"field": "x", "type": "quantitative", "title": "Mean Cartilage Thickness (mm)"}, "y": {"field": "y", "type": "quantitative", "title": "(Spherical - Original) Cartilage Thickness (mm)"}}},
   {"data": {"name": "tibiaThicknessRefs"}, "mark": {"type": "rule"},
    "encoding": {"y": {"field": "y", "type": "quantitative", "title": "(Spherical - Original) Cartilage Thickness (mm)"},
     "color": {"field": "kind", "type": "nominal", "scale": {"domain": ["limit", "mean", "zero"], "range": ["#808080", "#808080", "#000000"]}, "legend": null},
     "strokeDash": {"field": "kind", "type": "nominal", "scale": {"domain": ["limit", "mean", "zero"], "range": [[6, 3], [1, 0], [1, 0]]}, "legend": null},
     "strokeWidth": {"field": "kind", "type": "nominal", "scale": {"domain": ["limit", "mean", "zero"], "range": [1.6, 1.6, 2]}, "legend": null}}},
   {"data": {"name": "tibiaThicknessRefs"}, "transform": [{"filter": "datum.side == 'above'"}], "mark": {"type": "text", "align": "right", "baseline": "bottom", "dy": -2, "fontSize": 11.5, "color": "#111111"},
    "encoding": {"x": {"field": "x", "type": "quantitative", "title": "Mean Cartilage Thickness (mm)"}, "y": {"field": "y", "type": "quantitative", "title": "(Spherical - Original) Cartilage Thickness (mm)"}, "text": {"field": "label"}}},
   {"data": {"values": [{"tag": "(B)", "x": 0.72, "y": -0.91}]}, "mark": {"type": "text", "align": "left", "baseline": "alphabetic", "font": "Liberation Serif", "fontWeight": "bold", "fontSize": 22, "color": "#000000"},
    "encoding": {"x": {"field": "x", "type": "quantitative", "title": "Mean Cartilage Thickness (mm)"}, "y": {"field": "y", "type": "quantitative", "title": "(Spherical - Original) Cartilage Thickness (mm)"}, "text": {"field": "tag"}}}
  ]
 },
 {
  "title": "Patella Cartilage Thickness Differences",
  "width": 353, "height": 277,
  "layer": [
   {"data": {"name": "patellaThicknessEdge"}, "mark": {"type": "circle", "size": 6, "color": "#2ca02c", "opacity": 0.9},
    "encoding": {
     "x": {"field": "x", "type": "quantitative", "title": "Mean Cartilage Thickness (mm)", "scale": {"domain": [0.6, 4.84], "nice": false, "zero": false}, "axis": {"values": [1, 1.5, 2, 2.5, 3, 3.5, 4, 4.5], "format": ".1f", "tickCount": 12}},
     "y": {"field": "y", "type": "quantitative", "title": "(Spherical - Original) Cartilage Thickness (mm)", "scale": {"domain": [-1, 1], "nice": false, "zero": false}, "axis": {"values": [-1, -0.8, -0.6, -0.4, -0.2, 0, 0.2, 0.4, 0.6, 0.8, 1], "tickCount": 12, "labelExpr": "replace(format(datum.value, '.1f'), '\u2212', '-')"}}}},
   {"data": {"name": "patellaThicknessCore"}, "mark": {"type": "circle", "size": 260, "color": "#2ca02c", "opacity": 1},
    "encoding": {"x": {"field": "x", "type": "quantitative", "title": "Mean Cartilage Thickness (mm)"}, "y": {"field": "y", "type": "quantitative", "title": "(Spherical - Original) Cartilage Thickness (mm)"}}},
   {"data": {"name": "patellaThicknessRefs"}, "mark": {"type": "rule"},
    "encoding": {"y": {"field": "y", "type": "quantitative", "title": "(Spherical - Original) Cartilage Thickness (mm)"},
     "color": {"field": "kind", "type": "nominal", "scale": {"domain": ["limit", "mean", "zero"], "range": ["#808080", "#808080", "#000000"]}, "legend": null},
     "strokeDash": {"field": "kind", "type": "nominal", "scale": {"domain": ["limit", "mean", "zero"], "range": [[6, 3], [1, 0], [1, 0]]}, "legend": null},
     "strokeWidth": {"field": "kind", "type": "nominal", "scale": {"domain": ["limit", "mean", "zero"], "range": [1.6, 1.6, 2]}, "legend": null}}},
   {"data": {"name": "patellaThicknessRefs"}, "transform": [{"filter": "datum.side == 'above'"}], "mark": {"type": "text", "align": "right", "baseline": "bottom", "dy": -2, "fontSize": 11.5, "color": "#111111"},
    "encoding": {"x": {"field": "x", "type": "quantitative", "title": "Mean Cartilage Thickness (mm)"}, "y": {"field": "y", "type": "quantitative", "title": "(Spherical - Original) Cartilage Thickness (mm)"}, "text": {"field": "label"}}},
   {"data": {"name": "patellaThicknessRefs"}, "transform": [{"filter": "datum.side == 'below'"}], "mark": {"type": "text", "align": "right", "baseline": "top", "dy": 3, "fontSize": 11.5, "color": "#111111"},
    "encoding": {"x": {"field": "x", "type": "quantitative", "title": "Mean Cartilage Thickness (mm)"}, "y": {"field": "y", "type": "quantitative", "title": "(Spherical - Original) Cartilage Thickness (mm)"}, "text": {"field": "label"}}},
   {"data": {"values": [{"tag": "(C)", "x": 0.74, "y": -0.91}]}, "mark": {"type": "text", "align": "left", "baseline": "alphabetic", "font": "Liberation Serif", "fontWeight": "bold", "fontSize": 22, "color": "#000000"},
    "encoding": {"x": {"field": "x", "type": "quantitative", "title": "Mean Cartilage Thickness (mm)"}, "y": {"field": "y", "type": "quantitative", "title": "(Spherical - Original) Cartilage Thickness (mm)"}, "text": {"field": "tag"}}}
  ]
 },
 {
  "title": "Femur Cartilage T\u2082 Differences",
  "width": 353, "height": 277,
  "layer": [
   {"data": {"name": "femurT2Edge"}, "mark": {"type": "circle", "size": 6, "color": "#1f77b4", "opacity": 0.9},
    "encoding": {
     "x": {"field": "x", "type": "quantitative", "title": "Mean Cartilage T\u2082 (ms)", "scale": {"domain": [41.5, 121.6], "nice": false, "zero": false}, "axis": {"values": [50, 60, 70, 80, 90, 100, 110, 120], "format": "d", "tickCount": 12}},
     "y": {"field": "y", "type": "quantitative", "title": "(Spherical - Original) Cartilage T\u2082 (ms)", "scale": {"domain": [-20, 20], "nice": false, "zero": false}, "axis": {"values": [-20, -16, -12, -8, -4, 0, 4, 8, 12, 16, 20], "tickCount": 12, "labelExpr": "replace(format(datum.value, '.1f'), '\u2212', '-')"}}}},
   {"data": {"name": "femurT2Core"}, "mark": {"type": "circle", "size": 260, "color": "#1f77b4", "opacity": 1},
    "encoding": {"x": {"field": "x", "type": "quantitative", "title": "Mean Cartilage T\u2082 (ms)"}, "y": {"field": "y", "type": "quantitative", "title": "(Spherical - Original) Cartilage T\u2082 (ms)"}}},
   {"data": {"name": "femurT2Refs"}, "mark": {"type": "rule"},
    "encoding": {"y": {"field": "y", "type": "quantitative", "title": "(Spherical - Original) Cartilage T\u2082 (ms)"},
     "color": {"field": "kind", "type": "nominal", "scale": {"domain": ["limit", "mean", "zero"], "range": ["#808080", "#808080", "#000000"]}, "legend": null},
     "strokeDash": {"field": "kind", "type": "nominal", "scale": {"domain": ["limit", "mean", "zero"], "range": [[6, 3], [1, 0], [1, 0]]}, "legend": null},
     "strokeWidth": {"field": "kind", "type": "nominal", "scale": {"domain": ["limit", "mean", "zero"], "range": [1.6, 1.6, 2]}, "legend": null}}},
   {"data": {"name": "femurT2Refs"}, "transform": [{"filter": "datum.side == 'above'"}], "mark": {"type": "text", "align": "right", "baseline": "bottom", "dy": -2, "fontSize": 11.5, "color": "#111111"},
    "encoding": {"x": {"field": "x", "type": "quantitative", "title": "Mean Cartilage T\u2082 (ms)"}, "y": {"field": "y", "type": "quantitative", "title": "(Spherical - Original) Cartilage T\u2082 (ms)"}, "text": {"field": "label"}}},
   {"data": {"name": "femurT2Refs"}, "transform": [{"filter": "datum.side == 'below'"}], "mark": {"type": "text", "align": "right", "baseline": "top", "dy": 3, "fontSize": 11.5, "color": "#111111"},
    "encoding": {"x": {"field": "x", "type": "quantitative", "title": "Mean Cartilage T\u2082 (ms)"}, "y": {"field": "y", "type": "quantitative", "title": "(Spherical - Original) Cartilage T\u2082 (ms)"}, "text": {"field": "label"}}},
   {"data": {"values": [{"tag": "(D)", "x": 43.2, "y": -18.3}]}, "mark": {"type": "text", "align": "left", "baseline": "alphabetic", "font": "Liberation Serif", "fontWeight": "bold", "fontSize": 22, "color": "#000000"},
    "encoding": {"x": {"field": "x", "type": "quantitative", "title": "Mean Cartilage T\u2082 (ms)"}, "y": {"field": "y", "type": "quantitative", "title": "(Spherical - Original) Cartilage T\u2082 (ms)"}, "text": {"field": "tag"}}}
  ]
 },
 {
  "title": "Tibia Cartilage T\u2082 Differences",
  "width": 352, "height": 277,
  "layer": [
   {"data": {"name": "tibiaT2Edge"}, "mark": {"type": "circle", "size": 6, "color": "#ff7f0e", "opacity": 0.9},
    "encoding": {
     "x": {"field": "x", "type": "quantitative", "title": "Mean Cartilage T\u2082 (ms)", "scale": {"domain": [26.6, 137.4], "nice": false, "zero": false}, "axis": {"values": [40, 60, 80, 100, 120], "format": "d", "tickCount": 12}},
     "y": {"field": "y", "type": "quantitative", "title": "(Spherical - Original) Cartilage T\u2082 (ms)", "scale": {"domain": [-20, 20], "nice": false, "zero": false}, "axis": {"values": [-20, -16, -12, -8, -4, 0, 4, 8, 12, 16, 20], "tickCount": 12, "labelExpr": "replace(format(datum.value, '.1f'), '\u2212', '-')"}}}},
   {"data": {"name": "tibiaT2Core"}, "mark": {"type": "circle", "size": 260, "color": "#ff7f0e", "opacity": 1},
    "encoding": {"x": {"field": "x", "type": "quantitative", "title": "Mean Cartilage T\u2082 (ms)"}, "y": {"field": "y", "type": "quantitative", "title": "(Spherical - Original) Cartilage T\u2082 (ms)"}}},
   {"data": {"name": "tibiaT2Refs"}, "mark": {"type": "rule"},
    "encoding": {"y": {"field": "y", "type": "quantitative", "title": "(Spherical - Original) Cartilage T\u2082 (ms)"},
     "color": {"field": "kind", "type": "nominal", "scale": {"domain": ["limit", "mean", "zero"], "range": ["#808080", "#808080", "#000000"]}, "legend": null},
     "strokeDash": {"field": "kind", "type": "nominal", "scale": {"domain": ["limit", "mean", "zero"], "range": [[6, 3], [1, 0], [1, 0]]}, "legend": null},
     "strokeWidth": {"field": "kind", "type": "nominal", "scale": {"domain": ["limit", "mean", "zero"], "range": [1.6, 1.6, 2]}, "legend": null}}},
   {"data": {"name": "tibiaT2Refs"}, "transform": [{"filter": "datum.side == 'above'"}], "mark": {"type": "text", "align": "right", "baseline": "bottom", "dy": -2, "fontSize": 11.5, "color": "#111111"},
    "encoding": {"x": {"field": "x", "type": "quantitative", "title": "Mean Cartilage T\u2082 (ms)"}, "y": {"field": "y", "type": "quantitative", "title": "(Spherical - Original) Cartilage T\u2082 (ms)"}, "text": {"field": "label"}}},
   {"data": {"name": "tibiaT2Refs"}, "transform": [{"filter": "datum.side == 'below'"}], "mark": {"type": "text", "align": "right", "baseline": "top", "dy": 3, "fontSize": 11.5, "color": "#111111"},
    "encoding": {"x": {"field": "x", "type": "quantitative", "title": "Mean Cartilage T\u2082 (ms)"}, "y": {"field": "y", "type": "quantitative", "title": "(Spherical - Original) Cartilage T\u2082 (ms)"}, "text": {"field": "label"}}},
   {"data": {"values": [{"tag": "(E)", "x": 28.4, "y": -18.3}]}, "mark": {"type": "text", "align": "left", "baseline": "alphabetic", "font": "Liberation Serif", "fontWeight": "bold", "fontSize": 22, "color": "#000000"},
    "encoding": {"x": {"field": "x", "type": "quantitative", "title": "Mean Cartilage T\u2082 (ms)"}, "y": {"field": "y", "type": "quantitative", "title": "(Spherical - Original) Cartilage T\u2082 (ms)"}, "text": {"field": "tag"}}}
  ]
 },
 {
  "title": "Patella Cartilage T\u2082 Differences",
  "width": 353, "height": 277,
  "layer": [
   {"data": {"name": "patellaT2Edge"}, "mark": {"type": "circle", "size": 6, "color": "#2ca02c", "opacity": 0.9},
    "encoding": {
     "x": {"field": "x", "type": "quantitative", "title": "Mean Cartilage T\u2082 (ms)", "scale": {"domain": [32.05, 140.2], "nice": false, "zero": false}, "axis": {"values": [40, 60, 80, 100, 120, 140], "format": "d", "tickCount": 12}},
     "y": {"field": "y", "type": "quantitative", "title": "(Spherical - Original) Cartilage T\u2082 (ms)", "scale": {"domain": [-20, 20], "nice": false, "zero": false}, "axis": {"values": [-20, -16, -12, -8, -4, 0, 4, 8, 12, 16, 20], "tickCount": 12, "labelExpr": "replace(format(datum.value, '.1f'), '\u2212', '-')"}}}},
   {"data": {"name": "patellaT2Core"}, "mark": {"type": "circle", "size": 260, "color": "#2ca02c", "opacity": 1},
    "encoding": {"x": {"field": "x", "type": "quantitative", "title": "Mean Cartilage T\u2082 (ms)"}, "y": {"field": "y", "type": "quantitative", "title": "(Spherical - Original) Cartilage T\u2082 (ms)"}}},
   {"data": {"name": "patellaT2Refs"}, "mark": {"type": "rule"},
    "encoding": {"y": {"field": "y", "type": "quantitative", "title": "(Spherical - Original) Cartilage T\u2082 (ms)"},
     "color": {"field": "kind", "type": "nominal", "scale": {"domain": ["limit", "mean", "zero"], "range": ["#808080", "#808080", "#000000"]}, "legend": null},
     "strokeDash": {"field": "kind", "type": "nominal", "scale": {"domain": ["limit", "mean", "zero"], "range": [[6, 3], [1, 0], [1, 0]]}, "legend": null},
     "strokeWidth": {"field": "kind", "type": "nominal", "scale": {"domain": ["limit", "mean", "zero"], "range": [1.6, 1.6, 2]}, "legend": null}}},
   {"data": {"name": "patellaT2Refs"}, "transform": [{"filter": "datum.side == 'above'"}], "mark": {"type": "text", "align": "right", "baseline": "bottom", "dy": -2, "fontSize": 11.5, "color": "#111111"},
    "encoding": {"x": {"field": "x", "type": "quantitative", "title": "Mean Cartilage T\u2082 (ms)"}, "y": {"field": "y", "type": "quantitative", "title": "(Spherical - Original) Cartilage T\u2082 (ms)"}, "text": {"field": "label"}}},
   {"data": {"name": "patellaT2Refs"}, "transform": [{"filter": "datum.side == 'below'"}], "mark": {"type": "text", "align": "right", "baseline": "top", "dy": 3, "fontSize": 11.5, "color": "#111111"},
    "encoding": {"x": {"field": "x", "type": "quantitative", "title": "Mean Cartilage T\u2082 (ms)"}, "y": {"field": "y", "type": "quantitative", "title": "(Spherical - Original) Cartilage T\u2082 (ms)"}, "text": {"field": "label"}}},
   {"data": {"values": [{"tag": "(F)", "x": 35.1, "y": -18.3}]}, "mark": {"type": "text", "align": "left", "baseline": "alphabetic", "font": "Liberation Serif", "fontWeight": "bold", "fontSize": 22, "color": "#000000"},
    "encoding": {"x": {"field": "x", "type": "quantitative", "title": "Mean Cartilage T\u2082 (ms)"}, "y": {"field": "y", "type": "quantitative", "title": "(Spherical - Original) Cartilage T\u2082 (ms)"}, "text": {"field": "tag"}}}
  ]
 }
]
}
